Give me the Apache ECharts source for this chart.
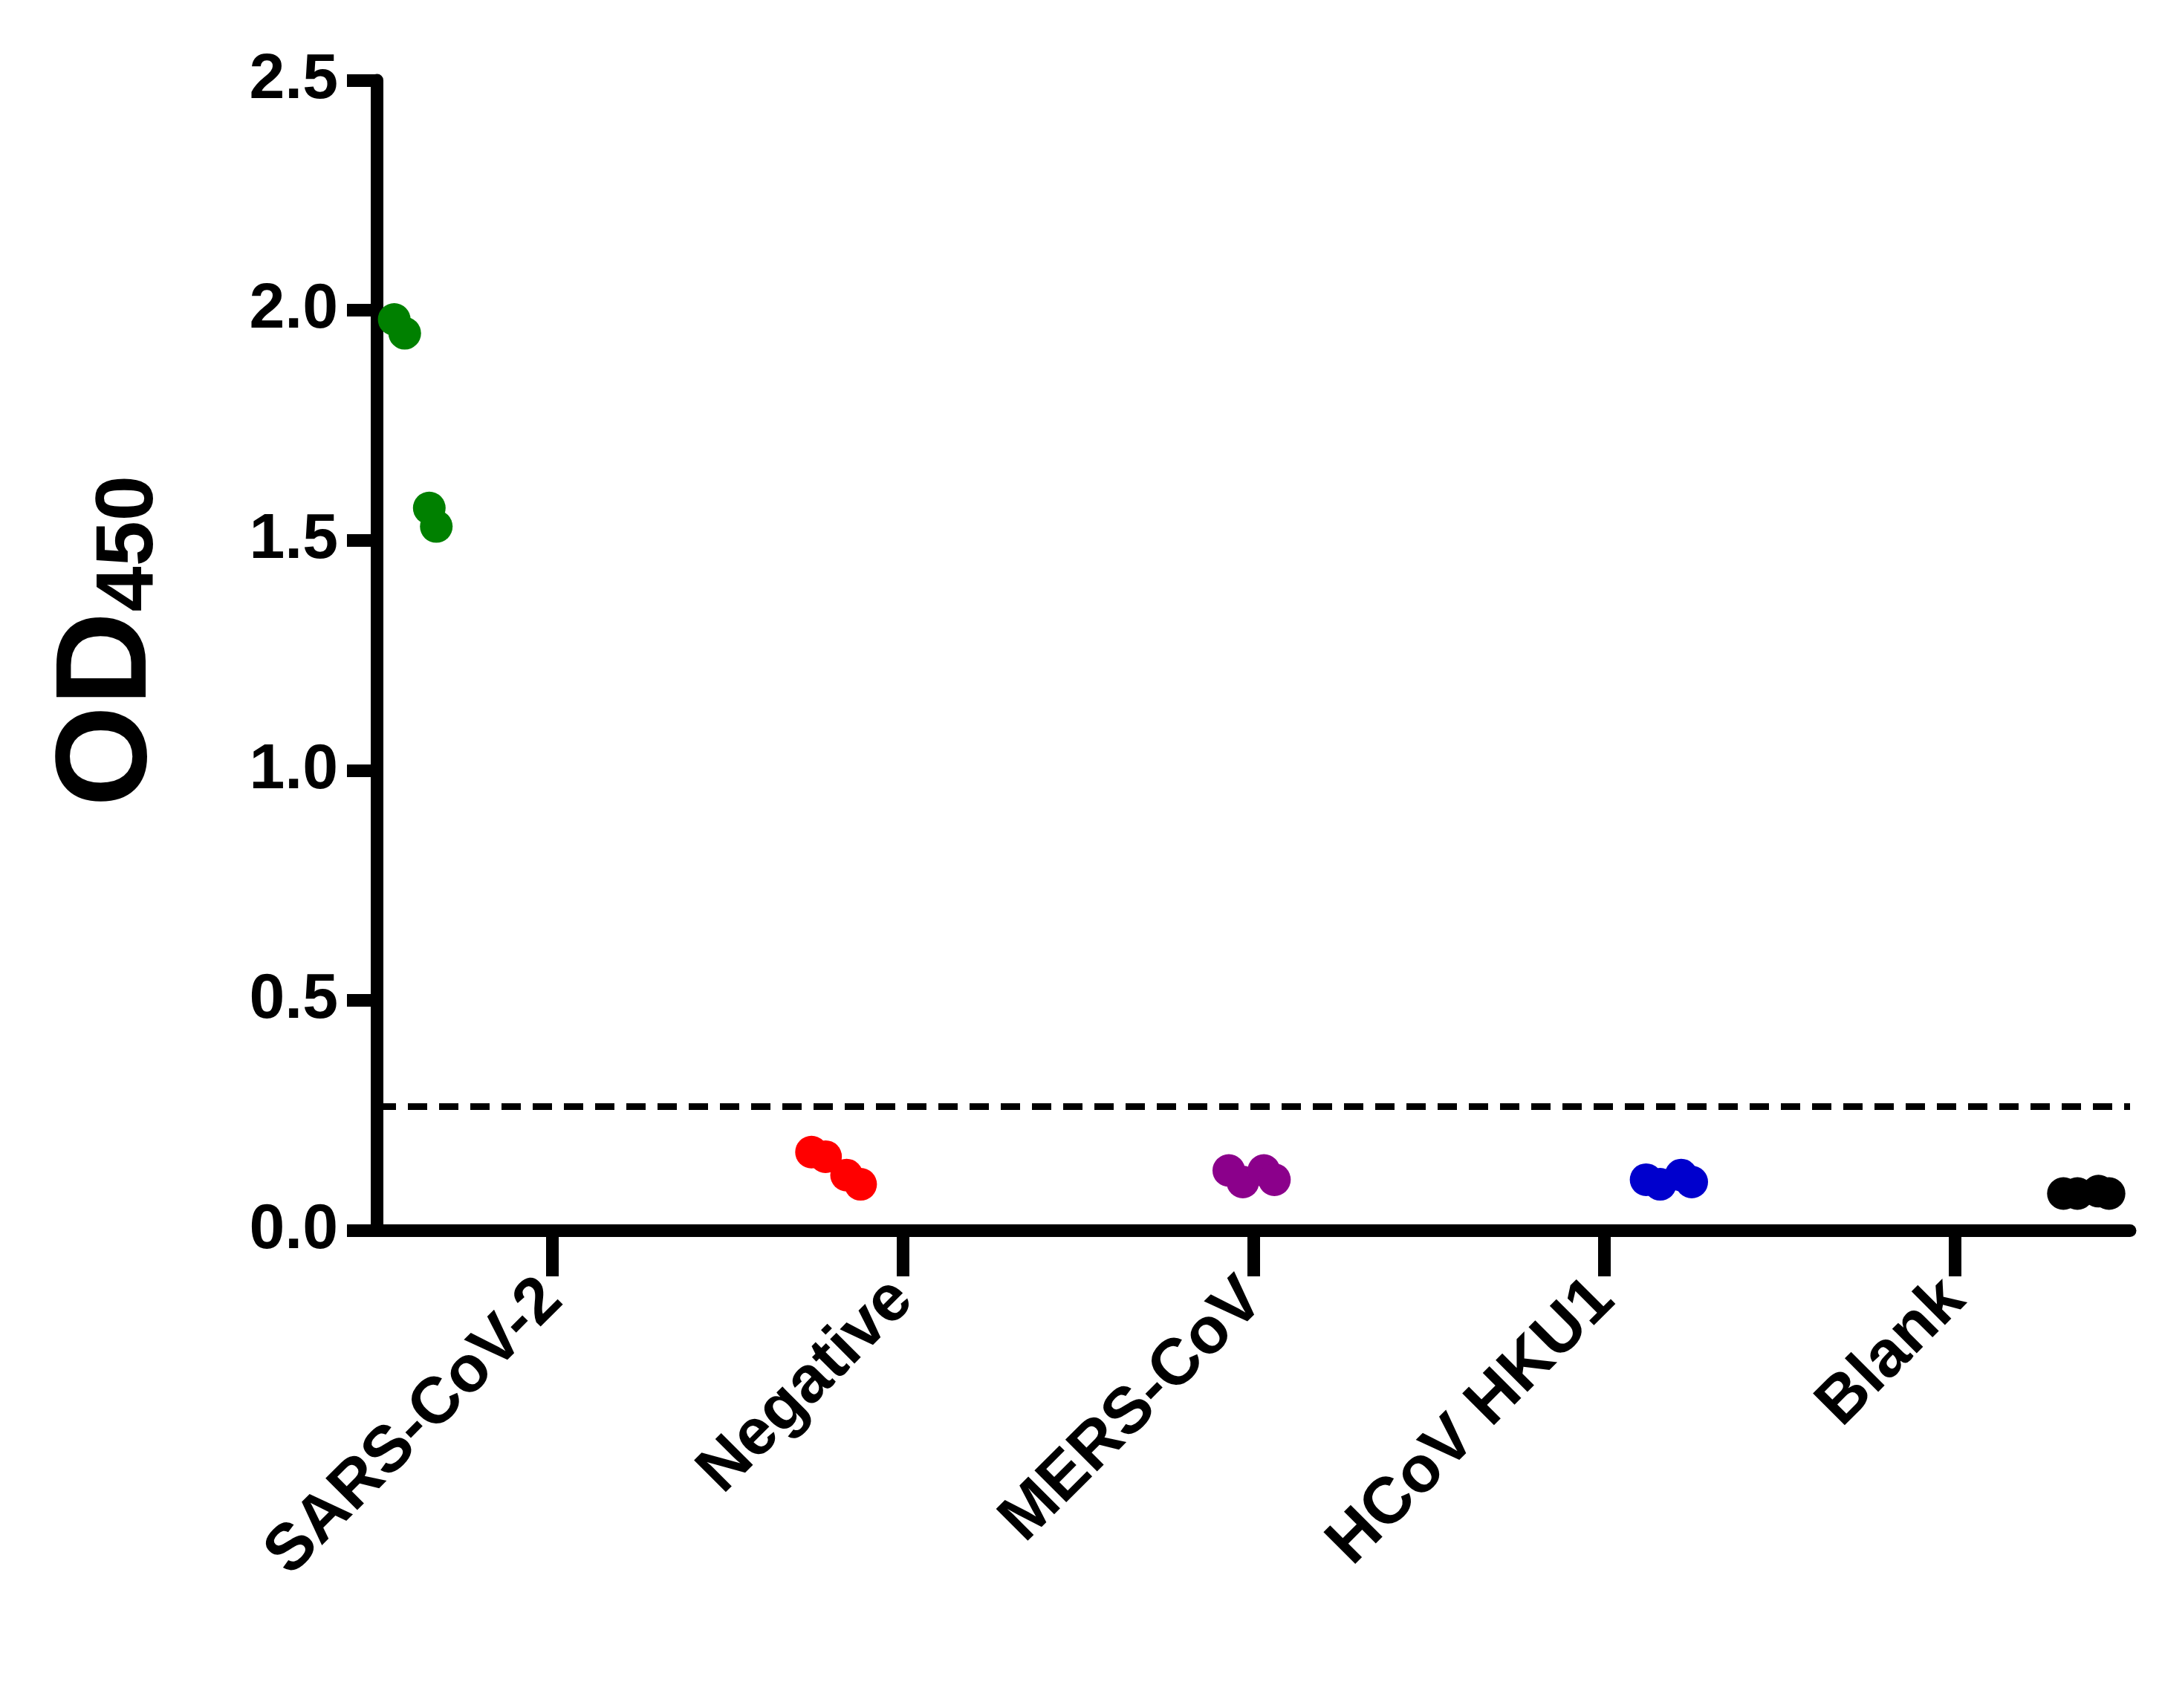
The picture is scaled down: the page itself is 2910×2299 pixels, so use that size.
<!DOCTYPE html>
<html><head><meta charset="utf-8">
<script src="https://cdn.jsdelivr.net/npm/echarts@6/dist/echarts.min.js"></script>
<style>html,body{margin:0;background:#fff}#c{width:2910px;height:2299px}</style>
</head><body><div id="c"></div>
<script>
const categories = ['SARS-CoV-2', 'Negative', 'MERS-CoV', 'HCoV HKU1', 'Blank'];
const colors = ['#008000', '#ff0000', '#8b008b', '#0000cd', '#000000'];
// x positions in category units (points are jittered inside each group)
const xPos = [
  [0.05, 0.08, 0.15, 0.17],
  [1.24, 1.28, 1.34, 1.38],
  [2.43, 2.47, 2.53, 2.56],
  [3.62, 3.66, 3.72, 3.75],
  [4.81, 4.85, 4.91, 4.94]
];
const odValues = [
  [1.98, 1.95, 1.57, 1.53],
  [0.17, 0.16, 0.12, 0.10],
  [0.13, 0.105, 0.13, 0.11],
  [0.11, 0.10, 0.12, 0.105],
  [0.08, 0.08, 0.085, 0.08]
];
const cutoff = 0.27;

const chart = echarts.init(document.getElementById('c'));
const font = 'Liberation Sans';

const series = categories.map((name, i) => ({
  name: name,
  type: 'scatter',
  xAxisIndex: 1,
  symbolSize: 44,
  itemStyle: { color: colors[i], opacity: 1 },
  data: xPos[i].map((x, j) => [x, odValues[i][j]]),
  z: 5
}));
series[0].markLine = {
  silent: true, symbol: 'none', label: { show: false },
  lineStyle: { color: '#000', type: [26, 16], width: 9 },
  data: [{ yAxis: cutoff }]
};

chart.setOption({
  animation: false,
  grid: { left: 507, top: 108, width: 2360, height: 1548 },
  xAxis: [{
    type: 'category',
    data: categories,
    boundaryGap: true,
    axisLine: { lineStyle: { color: '#000', width: 17 } },
    axisTick: { show: true, length: 62, alignWithLabel: true, lineStyle: { width: 17, color: '#000' } },
    axisLabel: { rotate: 45, margin: 80, color: '#000', fontSize: 88, fontWeight: 'bold', fontFamily: font }
  }, {
    type: 'value', min: 0, max: 5, show: false
  }],
  yAxis: {
    type: 'value', min: 0, max: 2.5, interval: 0.5,
    splitLine: { show: false },
    axisLine: { show: true, lineStyle: { color: '#000', width: 17 } },
    axisTick: { show: true, length: 40, lineStyle: { width: 17, color: '#000' } },
    axisLabel: { margin: 52, color: '#000', fontSize: 86, fontWeight: 'bold', fontFamily: font,
      formatter: v => v.toFixed(1) }
  },
  graphic: [{
    type: 'text', left: 60, top: 640, rotation: Math.PI / 2,
    style: {
      text: '{a|OD}{b|450}',
      rich: {
        a: { fontSize: 175, fontWeight: 'bold', fontFamily: font, fill: '#000' },
        b: { fontSize: 110, fontWeight: 'bold', fontFamily: font, fill: '#000', padding: [55, 0, 0, 0] }
      }
    }
  }],
  series: series
});
</script></body></html>
